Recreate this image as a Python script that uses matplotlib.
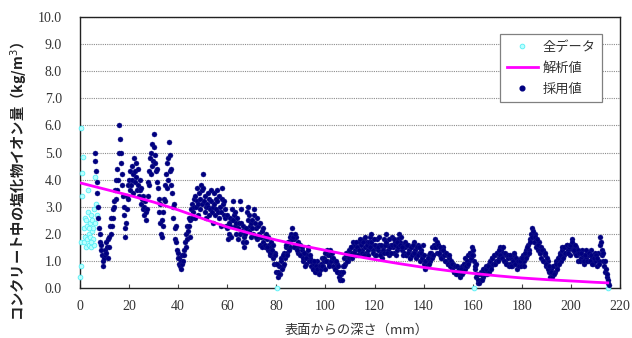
import numpy as np
import matplotlib
matplotlib.use("Agg")
import matplotlib.pyplot as plt
from matplotlib.lines import Line2D

# ---------------- data ----------------
# adopted values (採用値): depth 6.0 - 69.75 mm every 0.25 mm
adopt_a_start, adopt_a_step = 6.0, 0.25
adopt_a_vals = [
    5.0, 4.7, 4.3, 3.9, 3.5, 3.0, 2.6, 2.2,
    2.0, 1.7, 1.4, 1.6, 1.2, 1.0, 0.8, 1.1,
    1.4, 1.2, 1.7, 1.3, 1.5, 1.1, 1.8, 1.5,
    1.9, 2.3, 2.0, 2.6, 2.3, 2.9, 2.6, 3.2,
    3.0, 3.6, 3.3, 4.0, 3.6, 4.4, 4.0, 5.0,
    6.0, 5.5, 5.0, 4.6, 4.2, 3.8, 3.4, 3.0,
    2.7, 2.2, 1.9, 2.4, 2.9, 3.4, 3.8, 3.3,
    4.0, 3.6, 4.3, 3.8, 4.5, 4.0, 4.2, 3.5,
    4.8, 4.3, 3.9, 4.6, 4.1, 3.6, 4.4, 3.8,
    3.4, 4.0, 3.6, 3.1, 3.7, 3.3, 2.9, 3.4,
    3.0, 2.7, 3.2, 2.8, 2.5, 2.9, 3.4, 3.9,
    4.3, 3.8, 4.8, 4.2, 5.0, 4.5, 5.3, 4.7,
    5.7, 5.2, 4.6, 4.9, 4.3, 3.9, 4.4, 3.7,
    3.3, 2.8, 3.1, 2.4, 2.0, 2.5, 1.9, 2.3,
    2.8, 3.3, 3.8, 3.2, 4.2, 3.7, 4.6, 4.0,
    4.8, 5.4, 4.9, 4.3, 3.8, 4.4, 3.5, 3.0,
    2.6, 3.1, 2.2, 1.8, 2.3, 1.7, 1.4, 1.1,
    1.3, 0.9, 1.1, 0.8, 1.0, 0.7, 0.9, 1.2,
    1.0, 1.4, 1.2, 1.7, 1.5, 2.0, 1.8, 2.3,
    2.1, 2.6, 2.3, 1.9, 2.5, 2.9, 2.6, 3.1,
    2.8, 3.3, 3.0, 2.6, 3.4, 3.0, 3.7, 3.2,
    2.7, 3.1, 3.5, 2.9, 3.3, 3.8, 3.1, 3.6,
    4.2, 3.7, 3.2, 2.8, 3.4, 3.0, 2.6, 3.1,
    3.5, 3.0, 2.7, 3.3, 2.9, 3.6, 3.2, 2.8,
    2.4, 3.0, 3.5, 3.1, 2.7, 3.3, 2.9, 3.6,
    3.2, 2.8, 3.4, 2.6, 3.0, 2.3, 2.8, 3.3,
    3.7, 3.1, 2.7, 3.2, 2.6, 2.9, 2.3, 2.7,
    2.2, 1.8, 2.4, 2.0, 2.6, 2.3, 1.9, 2.5,
    2.9, 2.5, 3.2, 2.7, 2.3, 2.8, 2.4, 2.0,
    2.6, 2.2, 1.8, 2.4, 2.0, 3.2, 2.9, 2.4,
    2.1, 1.7, 2.3, 1.9, 1.5, 2.0, 1.7, 2.2,
    2.8, 3.0, 2.5, 2.1, 2.7, 2.3, 1.9, 2.4,
]
# adopted values (採用値): depth 70.0 - 215.5 mm every 0.5 mm
adopt_b_start, adopt_b_step = 70.0, 0.5
adopt_b_vals = [
    2.5, 2.0, 2.7, 2.2, 1.8, 2.3, 1.9, 1.6, 2.1, 1.7,
    1.9, 1.5, 1.8, 1.4, 1.6, 1.2, 1.5, 1.1, 0.9, 1.3,
    0.6, 0.4, 0.8, 0.5, 1.0, 0.8, 1.3, 1.1, 1.5, 1.3,
    1.7, 1.5, 2.0, 2.2, 1.8, 1.6, 1.9, 1.5, 1.3, 1.6,
    1.2, 1.4, 1.0, 1.3, 0.9, 1.2, 1.5, 1.1, 0.8, 1.0,
    0.7, 0.9, 0.6, 1.0, 0.8, 0.6, 0.9, 1.1, 0.8, 1.0,
    1.3, 1.0, 1.2, 0.9, 1.4, 1.1, 0.8, 1.0, 0.7, 0.9,
    0.6, 0.4, 0.3, 0.5, 0.8, 1.1, 0.9, 1.3, 1.0, 1.4,
    1.2, 1.5, 1.3, 1.6, 1.4, 1.2, 1.5, 1.7, 1.3, 1.6,
    1.4, 1.8, 1.5, 1.3, 1.7, 1.4, 1.9, 2.0, 1.6, 1.4,
    1.2, 1.5, 1.8, 1.4, 1.6, 1.3, 1.1, 1.5, 1.8, 2.0,
    1.6, 1.4, 1.2, 1.6, 1.9, 1.5, 1.3, 1.7, 1.4, 1.8,
    2.0, 1.7, 1.4, 1.6, 1.3, 1.5, 1.2, 1.6, 1.4, 1.1,
    1.5, 1.3, 1.7, 1.4, 1.2, 1.6, 1.3, 1.0, 1.4, 1.2,
    0.9, 0.7, 1.0, 0.8, 1.2, 1.0, 1.3, 1.5, 1.2, 1.8,
    1.5, 1.3, 1.6, 1.2, 1.4, 1.1, 1.5, 1.3, 1.0, 1.2,
    0.9, 1.1, 0.8, 0.7, 0.9, 0.6, 0.8, 0.6, 0.5, 0.7,
    0.5, 0.8, 0.6, 0.9, 1.1, 0.8, 1.2, 1.0, 1.3, 1.5,
    1.2, 1.0, 0.7, 0.4, 0.2, 0.5, 0.3, 0.6, 0.4, 0.7,
    0.5, 0.8, 0.6, 0.9, 1.0, 0.8, 1.1, 0.9, 1.2, 1.0,
    1.3, 1.1, 1.5, 1.4, 1.2, 1.3, 1.0, 1.2, 0.9, 1.1,
    0.9, 1.1, 0.8, 1.0, 1.2, 0.9, 0.7, 1.0, 0.8, 1.1,
    0.9, 1.2, 1.0, 1.4, 1.2, 1.6, 1.4, 1.8, 2.2, 1.9,
    1.7, 2.0, 1.6, 1.4, 1.7, 1.3, 1.1, 1.4, 1.0, 1.2,
    0.8, 1.0, 0.6, 0.4, 0.7, 0.5, 0.8, 0.6, 1.0, 0.8,
    1.1, 1.3, 1.0, 1.4, 1.2, 1.5, 1.3, 1.6, 1.4, 1.2,
    1.5, 1.8, 1.6, 1.3, 1.5, 1.2, 1.0, 1.3, 1.1, 1.4,
    1.2, 0.9, 1.1, 1.3, 1.0, 1.2, 1.4, 1.1, 0.9, 1.2,
    1.0, 0.8, 1.3, 1.0, 1.9, 1.4, 1.0, 0.8, 0.6, 0.4,
    0.2, 0.1,
]
# adopted values (採用値): depth 70.25 - 215.25 mm every 0.5 mm
adopt_c_start, adopt_c_step = 70.25, 0.5
adopt_c_vals = [
    2.2, 2.9, 2.4, 1.9, 2.6, 2.0, 2.4, 1.9, 1.5, 2.2,
    1.6, 2.0, 1.5, 1.9, 1.3, 1.7, 1.4, 1.6, 1.2, 0.9,
    0.9, 0.6, 0.5, 1.1, 0.7, 1.2, 0.9, 1.6, 1.2, 1.7,
    1.4, 1.9, 1.8, 1.9, 1.5, 2.0, 1.4, 1.7, 1.6, 1.2,
    1.5, 1.1, 1.3, 0.8, 1.1, 1.4, 1.0, 1.2, 1.0, 0.7,
    1.0, 0.6, 0.8, 0.7, 0.5, 0.8, 0.7, 0.8, 1.1, 0.7,
    1.0, 1.4, 0.8, 1.2, 1.0, 1.3, 1.1, 0.7, 1.0, 0.6,
    0.8, 0.5, 0.6, 0.3, 0.6, 0.8, 1.2, 1.0, 1.2, 1.1,
    1.5, 1.1, 1.7, 1.3, 1.7, 1.5, 1.2, 1.4, 1.8, 1.3,
    1.7, 1.2, 1.9, 1.6, 1.2, 1.7, 1.5, 1.7, 1.3, 1.8,
    1.6, 1.2, 1.5, 1.9, 1.2, 1.6, 1.4, 1.3, 1.6, 1.7,
    1.3, 1.8, 1.5, 1.3, 1.6, 1.8, 1.6, 1.2, 1.7, 1.5,
    1.6, 1.9, 1.5, 1.2, 1.7, 1.2, 1.6, 1.3, 1.1, 1.5,
    1.2, 1.6, 1.3, 1.1, 1.5, 1.2, 1.5, 1.3, 1.1, 1.6,
    1.2, 1.0, 0.8, 1.1, 0.9, 1.3, 1.1, 1.2, 1.6, 1.5,
    1.7, 1.6, 1.3, 1.5, 1.1, 1.4, 1.2, 1.0, 1.3, 0.9,
    1.2, 0.8, 1.0, 0.9, 0.6, 0.8, 0.5, 0.8, 0.7, 0.4,
    0.7, 0.5, 0.9, 0.7, 0.8, 1.0, 0.9, 1.3, 1.1, 1.2,
    1.4, 0.8, 0.9, 0.5, 0.3, 0.2, 0.5, 0.3, 0.7, 0.5,
    0.7, 0.5, 0.8, 0.6, 0.7, 1.1, 0.9, 1.2, 0.9, 1.3,
    1.0, 1.4, 1.2, 1.1, 1.5, 1.0, 1.3, 0.9, 1.2, 0.8,
    1.2, 0.8, 1.0, 1.3, 0.9, 1.1, 1.0, 0.8, 1.0, 0.8,
    1.1, 0.8, 1.3, 1.1, 1.5, 1.3, 1.7, 2.0, 1.9, 2.1,
    1.9, 1.5, 1.8, 1.6, 1.3, 1.5, 1.4, 1.0, 1.3, 0.9,
    1.1, 0.7, 0.8, 0.6, 0.4, 0.8, 0.5, 0.9, 0.7, 1.1,
    0.9, 1.2, 1.5, 1.1, 1.5, 1.3, 1.6, 1.3, 1.5, 1.6,
    1.7, 1.4, 1.4, 1.6, 1.2, 1.4, 1.3, 1.0, 1.3, 1.0,
    1.0, 1.2, 1.4, 1.0, 1.3, 1.0, 1.2, 0.9, 1.1, 1.3,
    1.2, 1.1, 0.9, 1.6, 1.7, 1.2, 1.3, 1.0, 0.7, 0.5,
    0.3,
]

# excluded points of all data (全データ)
all_depth = [0.0, 0.3, 0.5, 0.8, 1.2, 1.0, 0.6, 1.5, 1.8, 2.0, 2.2, 2.5, 2.7,
             3.0, 3.2, 3.4, 3.5, 3.7, 4.0, 4.2, 4.4, 4.6, 4.8, 5.0, 5.2, 5.4,
             5.6, 5.8, 6.1, 6.3, 6.6, 6.8, 3.8, 2.4, 4.5, 80.3, 160.6, 215.3]
all_vals = [0.4, 0.8, 5.9, 4.25, 4.85, 3.4, 1.7, 2.2, 1.7, 2.6, 1.9, 1.5, 2.3,
            1.8, 2.8, 3.6, 2.0, 1.6, 2.4, 1.9, 2.7, 1.5, 2.1, 2.5, 1.8, 2.2,
            1.6, 2.9, 4.1, 2.4, 3.1, 2.7, 2.2, 2.5, 1.7, 0.0, 0.0, 0.0]

# analytic curve (解析値)
fit_depth = [0, 10, 20, 30, 40, 50, 60, 70, 80, 90, 100, 110, 120, 130, 140,
             150, 160, 170, 180, 190, 200, 210, 215]
fit_vals = [3.88, 3.65, 3.42, 3.17, 2.88, 2.56, 2.25, 2.00, 1.77, 1.57, 1.39,
            1.21, 1.05, 0.90, 0.76, 0.64, 0.54, 0.45, 0.37, 0.31, 0.26, 0.21,
            0.19]

xticks = [0, 20, 40, 60, 80, 100, 120, 140, 160, 180, 200, 220]
yticks = [0, 1, 2, 3, 4, 5, 6, 7, 8, 9, 10]

# ---------------- figure ----------------
jp = ["Noto Sans CJK JP", "DejaVu Sans"]
num_font = "Liberation Serif"

fig = plt.figure(figsize=(6.32, 3.38), dpi=100)
ax = fig.add_axes([80 / 632, 1 - 288 / 338, 540 / 632, 271 / 338])

depth_a = adopt_a_start + adopt_a_step * np.arange(len(adopt_a_vals))
depth_b = adopt_b_start + adopt_b_step * np.arange(len(adopt_b_vals))
depth_c = adopt_c_start + adopt_c_step * np.arange(len(adopt_c_vals))
adopt_depth = np.concatenate([depth_a, depth_b, depth_c])
adopt_vals = np.concatenate([adopt_a_vals, adopt_b_vals, adopt_c_vals])

ax.plot(all_depth, all_vals, linestyle="none", marker="o", markersize=3.4,
        markerfacecolor="#B8FFFF", markeredgecolor="#55EEF5",
        markeredgewidth=0.6, zorder=3, clip_on=False)
ax.plot(adopt_depth, adopt_vals, linestyle="none", marker="o", markersize=3.6,
        markerfacecolor="#000080", markeredgecolor="#1a1a8a",
        markeredgewidth=0.3, zorder=4)
ax.plot(fit_depth, fit_vals, color="#FF00FF", linewidth=2.0, zorder=5)

ax.set_xlim(0, 220)
ax.set_ylim(0, 10)
ax.set_xticks(xticks)
ax.set_yticks(yticks)
ax.set_xticklabels([str(v) for v in xticks], fontfamily=num_font, fontsize=10,
                   color="#333333")
ax.set_yticklabels([f"{v:.1f}" for v in yticks], fontfamily=num_font,
                   fontsize=10, color="#333333")
ax.tick_params(axis="x", direction="in", length=3, width=0.8, pad=9,
               color="#444444")
ax.tick_params(axis="y", length=0, pad=13)

for v in yticks[1:]:
    ax.axhline(v, color="#8c8c8c", linewidth=0.8, linestyle=(0, (1, 1)),
               zorder=1)

for s in ax.spines.values():
    s.set_color("#222222")
    s.set_linewidth(1.0)

ax.set_xlabel("表面からの深さ（mm）", fontfamily=jp, fontsize=9.5,
              color="#333333", va="center")
ax.xaxis.set_label_coords((357 - 80) / 540, -(330 - 288) / 271)
fig.text(19 / 632, 1 - 181 / 338, "コンクリート中の塩化物イオン量（kg/m$^3$）",
         rotation=90, ha="center", va="center", fontfamily=jp, fontsize=10.3,
         fontweight="bold", color="#222222")

handles = [
    Line2D([], [], linestyle="none", marker="o", markersize=3.4,
           markerfacecolor="#B8FFFF", markeredgecolor="#55EEF5",
           markeredgewidth=0.6),
    Line2D([], [], color="#FF00FF", linewidth=2.0),
    Line2D([], [], linestyle="none", marker="o", markersize=3.4,
           markerfacecolor="#000080", markeredgecolor="#000080"),
]
leg = ax.legend(handles, ["全データ", "解析値", "採用値"],
                loc="upper left", bbox_to_anchor=(420 / 540, 1 - 17 / 271),
                borderaxespad=0,
                prop={"family": jp, "size": 9.5}, frameon=True, fancybox=False,
                edgecolor="#808080", framealpha=1, handlelength=2.4,
                handletextpad=0.3, labelspacing=0.6, borderpad=0.5)
leg.get_frame().set_linewidth(0.9)
for t in leg.get_texts():
    t.set_color("#333333")

fig.savefig("out.png", dpi=100)
